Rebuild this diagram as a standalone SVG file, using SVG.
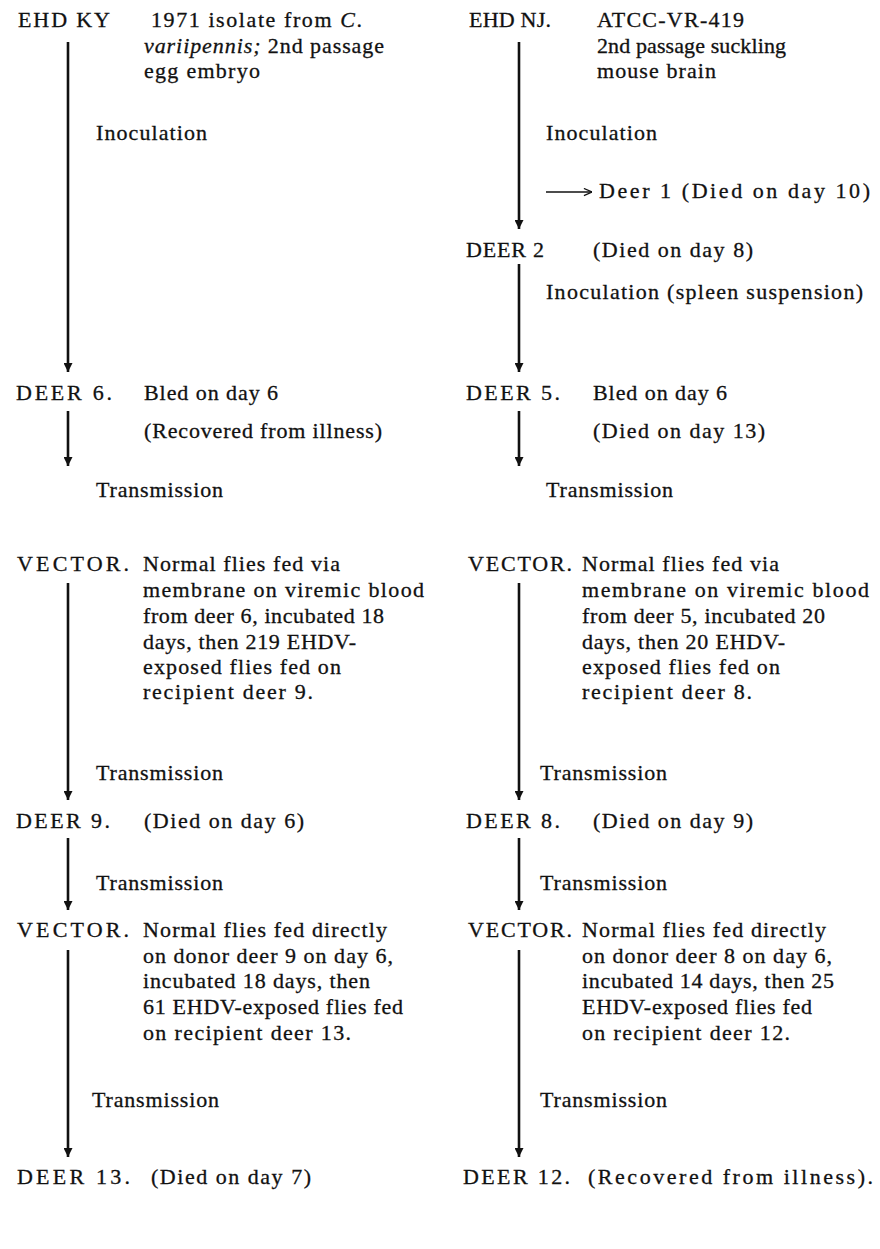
<svg xmlns="http://www.w3.org/2000/svg" width="880" height="1249" viewBox="0 0 880 1249">
<defs>
<style>
text{font-family:"Liberation Serif","Times New Roman",serif;font-size:22px;fill:#111;stroke:#111;stroke-width:0.3;}
.i{font-style:italic;}
.v{stroke:#111;stroke-width:2.6;fill:none;}
.h{stroke:#111;stroke-width:1.3;fill:none;}
</style>
<marker id="ah" viewBox="0 0 10 10" refX="10" refY="5" markerWidth="9" markerHeight="9" markerUnits="userSpaceOnUse" orient="auto"><path d="M0,0 L10,5 L0,10 z" fill="#111"/></marker>
<marker id="oh" viewBox="0 0 10 10" refX="10" refY="5" markerWidth="9" markerHeight="9" markerUnits="userSpaceOnUse" orient="auto"><path d="M1,1 L10,5 L1,9" fill="none" stroke="#111" stroke-width="1.3"/></marker>
</defs>
<rect width="880" height="1249" fill="#fff"/>

<g id="connectors">
<line class="v" x1="68" y1="42" x2="68" y2="372" marker-end="url(#ah)"/>
<line class="v" x1="68" y1="411" x2="68" y2="466" marker-end="url(#ah)"/>
<line class="v" x1="68" y1="583" x2="68" y2="800" marker-end="url(#ah)"/>
<line class="v" x1="68" y1="838" x2="68" y2="910" marker-end="url(#ah)"/>
<line class="v" x1="68" y1="950" x2="68" y2="1157" marker-end="url(#ah)"/>
<line class="v" x1="519" y1="42" x2="519" y2="229" marker-end="url(#ah)"/>
<line class="v" x1="519" y1="264" x2="519" y2="372" marker-end="url(#ah)"/>
<line class="v" x1="519" y1="411" x2="519" y2="466" marker-end="url(#ah)"/>
<line class="v" x1="519" y1="583" x2="519" y2="800" marker-end="url(#ah)"/>
<line class="v" x1="519" y1="838" x2="519" y2="910" marker-end="url(#ah)"/>
<line class="v" x1="519" y1="950" x2="519" y2="1157" marker-end="url(#ah)"/>
<line class="h" x1="546" y1="192" x2="592" y2="192" marker-end="url(#oh)"/>
</g>

<g id="labels-edges">
<text x="96" y="140" textLength="111">Inoculation</text>
<text x="96" y="497" textLength="127">Transmission</text>
<text x="96" y="780" textLength="127">Transmission</text>
<text x="96" y="890" textLength="127">Transmission</text>
<text x="92" y="1107" textLength="127">Transmission</text>
<text x="546" y="140" textLength="111">Inoculation</text>
<text x="546" y="299" textLength="317">Inoculation (spleen suspension)</text>
<text x="546" y="497" textLength="127">Transmission</text>
<text x="540" y="780" textLength="127">Transmission</text>
<text x="540" y="890" textLength="127">Transmission</text>
<text x="540" y="1107" textLength="127">Transmission</text>
</g>

<g id="ky">
<text x="18" y="27" textLength="92">EHD KY</text>
<text x="151" y="27" textLength="211">1971 isolate from <tspan class="i">C</tspan>.</text>
<text x="144" y="53" textLength="240"><tspan class="i">variipennis;</tspan> 2nd passage</text>
<text x="144" y="78" textLength="116">egg embryo</text>
</g>

<g id="deer6">
<text x="16" y="400" textLength="96">DEER 6.</text>
<text x="144" y="400" textLength="134">Bled on day 6</text>
<text x="144" y="438" textLength="238">(Recovered from illness)</text>
</g>

<g id="vector-left-1">
<text x="17" y="571" textLength="112">VECTOR.</text>
<text x="143" y="571" textLength="197">Normal flies fed via</text>
<text x="143" y="597" textLength="281">membrane on viremic blood</text>
<text x="143" y="623" textLength="241">from deer 6, incubated 18</text>
<text x="143" y="649" textLength="213">days, then 219 EHDV-</text>
<text x="143" y="674" textLength="198">exposed flies fed on</text>
<text x="143" y="699" textLength="170">recipient deer 9.</text>
</g>

<g id="deer9">
<text x="16" y="828" textLength="94">DEER 9.</text>
<text x="144" y="828" textLength="160">(Died on day 6)</text>
</g>

<g id="vector-left-2">
<text x="17" y="937" textLength="112">VECTOR.</text>
<text x="143" y="937" textLength="244">Normal flies fed directly</text>
<text x="143" y="963" textLength="250">on donor deer 9 on day 6,</text>
<text x="143" y="988" textLength="227">incubated 18 days, then</text>
<text x="143" y="1014" textLength="260">61 EHDV-exposed flies fed</text>
<text x="143" y="1040" textLength="208">on recipient deer 13.</text>
</g>

<g id="deer13">
<text x="17" y="1184" textLength="113">DEER 13.</text>
<text x="151" y="1184" textLength="160">(Died on day 7)</text>
</g>

<g id="nj">
<text x="469" y="27" textLength="82">EHD NJ.</text>
<text x="597" y="27" textLength="147">ATCC-VR-419</text>
<text x="597" y="53" textLength="189">2nd passage suckling</text>
<text x="597" y="78" textLength="119">mouse brain</text>
</g>

<g id="deer1">
<text x="599" y="198" textLength="271">Deer 1 (Died on day 10)</text>
</g>

<g id="deer2">
<text x="466" y="257" textLength="78">DEER 2</text>
<text x="593" y="257" textLength="160">(Died on day 8)</text>
</g>

<g id="deer5">
<text x="466" y="400" textLength="94">DEER 5.</text>
<text x="593" y="400" textLength="134">Bled on day 6</text>
<text x="593" y="438" textLength="172">(Died on day 13)</text>
</g>

<g id="vector-right-1">
<text x="468" y="571" textLength="104">VECTOR.</text>
<text x="582" y="571" textLength="197">Normal flies fed via</text>
<text x="582" y="597" textLength="287">membrane on viremic blood</text>
<text x="582" y="623" textLength="243">from deer 5, incubated 20</text>
<text x="582" y="649" textLength="203">days, then 20 EHDV-</text>
<text x="582" y="674" textLength="198">exposed flies fed on</text>
<text x="582" y="699" textLength="170">recipient deer 8.</text>
</g>

<g id="deer8">
<text x="466" y="828" textLength="94">DEER 8.</text>
<text x="593" y="828" textLength="160">(Died on day 9)</text>
</g>

<g id="vector-right-2">
<text x="468" y="937" textLength="104">VECTOR.</text>
<text x="582" y="937" textLength="244">Normal flies fed directly</text>
<text x="582" y="963" textLength="250">on donor deer 8 on day 6,</text>
<text x="582" y="988" textLength="252">incubated 14 days, then 25</text>
<text x="582" y="1014" textLength="230">EHDV-exposed flies fed</text>
<text x="582" y="1040" textLength="208">on recipient deer 12.</text>
</g>

<g id="deer12">
<text x="463" y="1184" textLength="107">DEER 12.</text>
<text x="588" y="1184" textLength="285">(Recovered from illness).</text>
</g>
</svg>
